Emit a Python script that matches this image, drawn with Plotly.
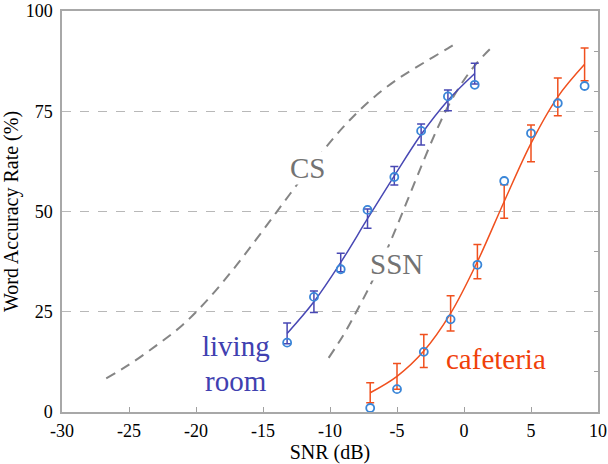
import plotly.graph_objects as go

# ---- data ----
cs_x = [-26.7, -25, -23, -21, -19, -17, -15, -13, -11, -9, -7, -5, -3, -1, -0.4]
cs_y = [8.4, 11.8, 16.5, 21.7, 28.5, 36.5, 45.3, 54.3, 63.1, 71.1, 77.7, 82.9, 87.1, 91.1, 92.4]

ssn_x = [-10.1, -9, -8, -7, -6, -5, -4, -3, -2, -1, 0, 1, 2]
ssn_y = [13.5, 19.2, 25.2, 31.6, 38.6, 46.4, 54.6, 62.8, 70.6, 77.4, 82.8, 87.2, 90.7]

lr_x = [-13.2, -11.2, -9.2, -7.2, -5.2, -3.2, -1.2, 0.8]
lr_mean = [19.6, 27.5, 37.3, 48.2, 58.9, 69.2, 77.7, 84.4]
lr_err = [2.6, 2.7, 2.3, 2.4, 2.3, 2.6, 2.6, 2.6]
lr_obs = [17.3, 28.7, 35.6, 50.4, 58.6, 70.1, 78.7, 81.6]

caf_x = [-7, -5, -3, -1, 1, 3, 5, 7, 9]
caf_mean = [4.8, 8.9, 15.2, 24.6, 37.5, 52.5, 67.0, 78.6, 86.7]
caf_err = [2.5, 3.2, 4.1, 4.4, 4.3, 4.2, 4.6, 4.7, 4.1]
caf_obs = [1.0, 5.7, 15.0, 23.1, 36.7, 57.6, 69.5, 77.0, 81.3]

x_ticks = [-30, -25, -20, -15, -10, -5, 0, 5, 10]
x_ticktext = ["-30", "-25", "-20", "-15", "-10", "-5", "0", "5", "10"]
y_ticks = [0, 25, 50, 75, 100]
right_ticks = [10, 20, 30, 40, 50, 60, 70, 80, 90]

FONT = "Liberation Serif"
LR_COL = "#4848b4"
CAF_COL = "#f0501e"
OBS_COL = "#3a86d8"
GRAY = "#858585"

fig = go.Figure()

for xs, ys in [(cs_x, cs_y), (ssn_x, ssn_y)]:
    fig.add_trace(go.Scatter(x=xs, y=ys, mode="lines", line=dict(color=GRAY, width=2, dash="10px,7px", shape="spline"),
                             hoverinfo="skip", showlegend=False))

fig.add_trace(go.Scatter(x=lr_x, y=lr_mean, mode="lines", line=dict(color=LR_COL, width=1.5, shape="spline"),
                         error_y=dict(type="data", array=lr_err, color=LR_COL, thickness=1.5, width=4),
                         showlegend=False))
fig.add_trace(go.Scatter(x=caf_x, y=caf_mean, mode="lines", line=dict(color=CAF_COL, width=1.5, shape="spline"),
                         error_y=dict(type="data", array=caf_err, color=CAF_COL, thickness=1.5, width=4),
                         showlegend=False))

for xs, ys in [(lr_x, lr_obs), (caf_x, caf_obs)]:
    fig.add_trace(go.Scatter(x=xs, y=ys, mode="markers",
                             marker=dict(symbol="circle-open", size=8, color=OBS_COL, line=dict(width=1.8, color=OBS_COL)),
                             showlegend=False))

fig.add_trace(go.Scatter(x=[], y=[], yaxis="y2", showlegend=False))

ann_font = dict(family=FONT, size=29)
fig.add_annotation(x=-11.7, y=60.8, text="CS", showarrow=False, bgcolor="white", borderpad=0,
                   font=dict(ann_font, color="#737373"))
fig.add_annotation(x=-5.05, y=36.8, text="SSN", showarrow=False, bgcolor="white", borderpad=0,
                   font=dict(ann_font, color="#737373"))
fig.add_annotation(x=-17.0, y=16.5, text="living", showarrow=False, font=dict(ann_font, color="#4040b0"))
fig.add_annotation(x=-17.0, y=7.8, text="room", showarrow=False, font=dict(ann_font, color="#4040b0"))
fig.add_annotation(x=2.4, y=13.2, text="cafeteria", showarrow=False, font=dict(ann_font, color="#f0400a"))

tick_font = dict(family=FONT, size=18, color="black")
title_font = dict(family=FONT, size=20, color="black")

fig.update_layout(
    width=608, height=464,
    margin=dict(l=62, r=10, t=11, b=52, autoexpand=False),
    paper_bgcolor="white", plot_bgcolor="white",
    font=dict(family=FONT, size=18, color="black"),
    xaxis=dict(range=[-30, 10], tickvals=x_ticks, ticktext=x_ticktext, ticks="inside", ticklen=5, tickcolor="#a0a0a0",
               showline=True, linecolor="#a8a8a8", linewidth=1.5, mirror=True, showgrid=False, zeroline=False,
               automargin=False, tickfont=tick_font,
               title=dict(text="SNR (dB)", font=title_font, standoff=2), ticklabelstandoff=2),
    yaxis=dict(range=[0, 100], tickvals=y_ticks, ticks="", showline=True, linecolor="#a8a8a8", linewidth=1.5,
               mirror=True, showgrid=True, gridcolor="#b8b8b8", griddash="dash", gridwidth=1, zeroline=False,
               automargin=False, tickfont=tick_font,
               title=dict(text="Word Accuracy Rate (%)", font=title_font, standoff=4), ticklabelstandoff=4),
    yaxis2=dict(range=[0, 100], overlaying="y", side="right", tickvals=right_ticks, ticks="inside", ticklen=4,
                tickcolor="#a0a0a0", showticklabels=False, showgrid=False, zeroline=False, showline=False,
                automargin=False),
)

fig.write_html("out.html", config={"displayModeBar": False},
               post_script="document.body.style.margin='0';document.body.style.overflow='hidden';")
